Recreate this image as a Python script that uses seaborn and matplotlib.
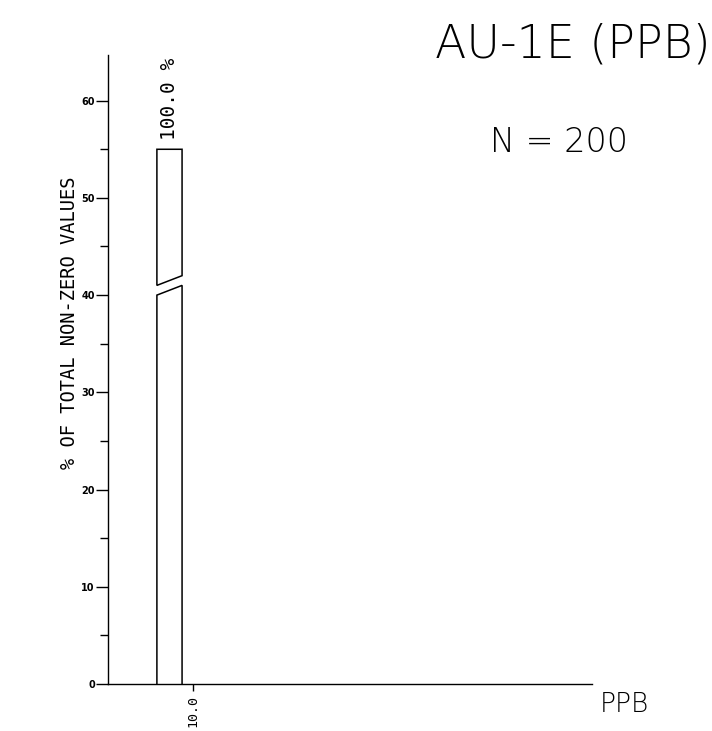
import matplotlib
matplotlib.use("Agg")
import matplotlib.pyplot as plt
import seaborn as sns
import numpy as np
from matplotlib.patches import Polygon

# ---- data ----
title = "AU-1E (PPB)"
n_label = "N = 200"
x_unit = "PPB"
ylabel = "% OF TOTAL NON-ZERO VALUES"
bin_left = [10.1]          # class edges on the x scale
bin_right = [15.3]
bin_pct = [100.0]          # percentage in the class
bar_cap = 55.0             # bar drawn truncated at this height
break_level = 40.0         # where the break is drawn
break_rise = 1.0
break_gap = 1.0
xtick_pos = [17.6]
xtick_labels = ["10.0"]
yticks = [0, 10, 20, 30, 40, 50, 60]
yminor = [5, 15, 25, 35, 45, 55]

sns.set_style("white")
plt.rcParams['font.family'] = ['DejaVu Sans']
plt.rcParams['text.color'] = 'black'
plt.rcParams['xtick.color'] = 'black'
plt.rcParams['ytick.color'] = 'black'

fig = plt.figure(figsize=(7.12, 7.31), dpi=100)
ax = fig.add_axes([0.1517, 0.0643, 0.6798, 0.8605])
ax.set_xlim(0, 100)
ax.set_ylim(0, 64.7)

for l, r, p in zip(bin_left, bin_right, bin_pct):
    h = min(p, bar_cap)
    lower = [(l, 0), (l, break_level), (r, break_level + break_rise), (r, 0)]
    ax.add_patch(Polygon(lower, closed=False, fill=False, ec="black", lw=1.1))
    upper = [(l, break_level + break_gap), (l, h), (r, h),
             (r, break_level + break_gap + break_rise), (l, break_level + break_gap)]
    ax.add_patch(Polygon(upper, closed=True, fill=False, ec="black", lw=1.1))
    ax.text((l + r) / 2, h + 1.0, f"{p:.1f} %", rotation=90, ha="center", va="bottom",
            family="DejaVu Sans Mono", fontsize=14, color="black")

for s in ["top", "right"]:
    ax.spines[s].set_visible(False)
for s in ["left", "bottom"]:
    ax.spines[s].set_color("black")
    ax.spines[s].set_linewidth(1.0)

ax.set_yticks(yticks)
ax.set_yticklabels([str(v) for v in yticks], fontsize=7, fontweight="bold")
ax.set_yticks(yminor, minor=True)
ax.tick_params(axis="y", which="major", direction="out", length=9, width=1,
               color="black", pad=0.5, left=True)
ax.tick_params(axis="y", which="minor", direction="out", length=6, width=1,
               color="black", left=True)
ax.set_xticks(xtick_pos)
ax.set_xticklabels(xtick_labels, rotation=90, family="DejaVu Sans Mono", fontsize=9.5)
ax.tick_params(axis="x", direction="out", length=5, width=1, color="black", pad=3, bottom=True)

fig.text(0.097, 0.559, ylabel, rotation=90, ha="center", va="center",
         family="DejaVu Sans Mono", fontsize=13.5, color="black")
fig.text(0.804, 0.922, title, ha="center", va="baseline", fontsize=33, fontweight="light", color="black")
fig.text(0.688, 0.792, n_label, ha="left", va="baseline", fontsize=24, fontweight="light", color="black")
fig.text(0.843, 0.026, x_unit, ha="left", va="baseline", fontsize=19, fontweight="light", color="black")

fig.savefig("out.png", dpi=100)
